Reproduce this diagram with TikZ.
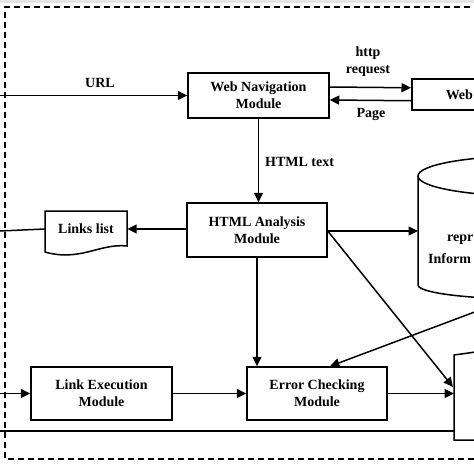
\documentclass[tikz,border=0pt]{standalone}
\usepackage{fontspec}
\setmainfont{Liberation Serif}
\usetikzlibrary{arrows.meta}
\begin{document}
\begin{tikzpicture}[x=1pt,y=-1pt,
  every node/.style={font=\bfseries\fontsize{14}{17}\selectfont},
  box/.style={draw, line width=1.5pt, align=center, inner sep=0pt},
  conn/.style={line width=1.5pt},
  arr/.style={conn, -{Triangle[length=9.5pt,width=9pt]}},
  frame/.style={line width=1.2pt, dash pattern=on 6pt off 4pt},
  lbl/.style={align=center, inner sep=0pt}]
\useasboundingbox (0,0) rectangle (474,474);
\clip (0,0) rectangle (474,474);
\fill[gray!20] (0,0) rectangle (474,3);
% frame
\draw[frame] (530,7) -- (5,7) -- (5,459) -- (530,459);
% free-end coordinates
\coordinate (urlin) at (0,95.5);
\coordinate (lin) at (0,231);
\coordinate (lkin) at (0,393.5);
\coordinate (bl) at (0,431);
\coordinate (dbw) at (418,231);
\coordinate (dbout) at (512,298);
\coordinate (bra) at (453,387);
\coordinate (brb) at (454,394);
\coordinate (brc) at (454,431);
% nodes
\node[box, minimum width=141pt, minimum height=45pt] (nav) at (258.5,95.5) {Web Navigation\\Module};
\node[box, anchor=north west, text width=70pt, inner xsep=34pt, inner ysep=0pt, align=left, minimum height=31pt] (web) at (411,78) {Web};
\node[box, minimum width=140pt, minimum height=54pt] (html) at (257,230) {HTML Analysis\\Module};
\node[box, minimum width=141pt, minimum height=53pt] (link) at (101.5,393.5) {Link Execution\\Module};
\node[box, minimum width=140pt, minimum height=53pt] (err) at (317,393.5) {Error Checking\\Module};
\node[inner sep=0pt, minimum width=82pt, minimum height=38pt] (links) at (86,229) {Links list};
\draw[conn] (45,211) -- (127,211) -- (127,246) .. controls (100,243) and (80,262) .. (45,252) -- cycle;
% database cylinder
\draw[conn] (528,176) ellipse (110 and 20);
\draw[conn] (418,176) -- (418,285) arc (180:0:110 and 14);
\node[anchor=west, inner sep=0pt] (dbt1) at (447,240) {repr};
\node[anchor=west, inner sep=0pt] (dbt2) at (428,259) {Inform};
% bottom-right box
\draw[conn] (540,440) -- (454,440) -- (454,355) -- (540,343);
% labels
\node[lbl] (lurl) at (100,83) {URL};
\node[lbl] (lhttp) at (368,62) {http\\request};
\node[lbl] (lpage) at (371,114) {Page};
\node[lbl, anchor=west] (lhtml) at (265,162) {HTML text};
% connectors
\draw[arr] (urlin) -- (nav.west);
\draw[arr] ([yshift=8.5pt]nav.east) -- ([yshift=6.5pt]web.west);
\draw[arr] ([yshift=-6.5pt]web.west) -- ([yshift=-4.5pt]nav.east);
\draw[arr] (nav.south) -- (nav.south |- html.north);
\draw[arr] (html.west |- links.east) -- (links.east);
\draw[conn] (links.west) -- (lin);
\draw[arr] (html.east |- dbw) -- (dbw);
\draw[arr] (html.east |- dbw) -- (bra);
\draw[arr] (html.south) -- (html.south |- err.north);
\draw[arr] (dbout) -- ([xshift=13pt]err.north);
\draw[arr] (lkin) -- (link.west);
\draw[arr] (link.east) -- (err.west);
\draw[arr] (err.east) -- (err.east -| brb);
\draw[conn] (bl) -- (brc);
\end{tikzpicture}
\end{document}
